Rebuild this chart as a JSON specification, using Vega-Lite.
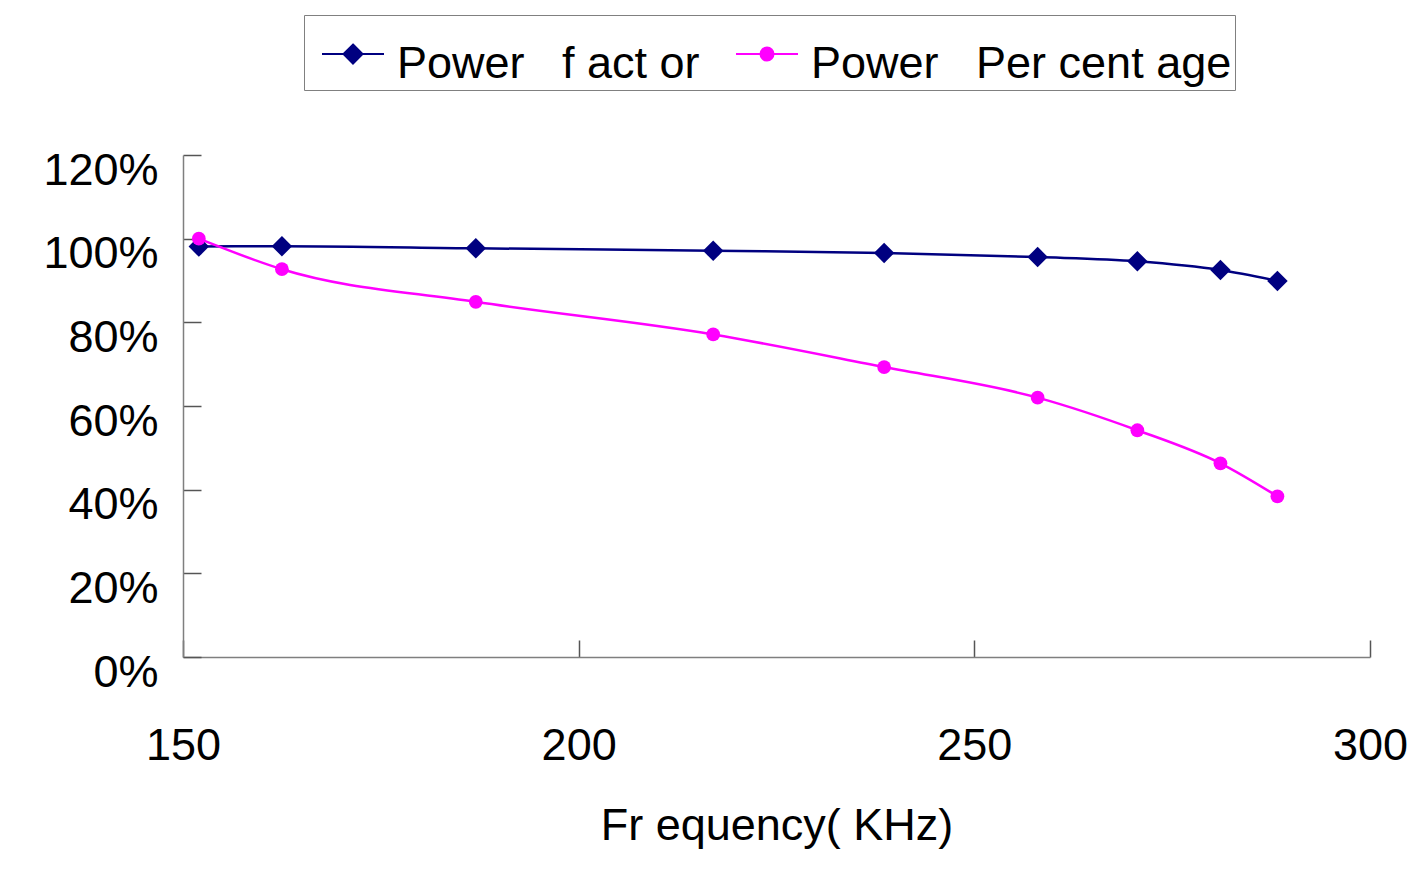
{
  "$schema": "https://vega.github.io/schema/vega-lite/v6.json",
  "width": 1187,
  "height": 502,
  "autosize": {"type": "none"},
  "padding": {"left": 183, "top": 155, "right": 48, "bottom": 215},
  "background": "white",
  "config": {"view": {"stroke": null}, "font": "Liberation Sans"},
  "data": {
    "values": [
      {"Series": "Power\u00a0\u00a0\u00a0f act or", "Frequency": 152, "Value": 0.981},
      {"Series": "Power\u00a0\u00a0\u00a0f act or", "Frequency": 162.5, "Value": 0.982},
      {"Series": "Power\u00a0\u00a0\u00a0f act or", "Frequency": 187, "Value": 0.977},
      {"Series": "Power\u00a0\u00a0\u00a0f act or", "Frequency": 217, "Value": 0.971},
      {"Series": "Power\u00a0\u00a0\u00a0f act or", "Frequency": 238.6, "Value": 0.966},
      {"Series": "Power\u00a0\u00a0\u00a0f act or", "Frequency": 258, "Value": 0.956},
      {"Series": "Power\u00a0\u00a0\u00a0f act or", "Frequency": 270.6, "Value": 0.946},
      {"Series": "Power\u00a0\u00a0\u00a0f act or", "Frequency": 281.1, "Value": 0.925},
      {"Series": "Power\u00a0\u00a0\u00a0f act or", "Frequency": 288.3, "Value": 0.899},
      {"Series": "Power\u00a0\u00a0\u00a0Per cent age", "Frequency": 152, "Value": 1.0},
      {"Series": "Power\u00a0\u00a0\u00a0Per cent age", "Frequency": 162.5, "Value": 0.927},
      {"Series": "Power\u00a0\u00a0\u00a0Per cent age", "Frequency": 187, "Value": 0.849},
      {"Series": "Power\u00a0\u00a0\u00a0Per cent age", "Frequency": 217, "Value": 0.771},
      {"Series": "Power\u00a0\u00a0\u00a0Per cent age", "Frequency": 238.6, "Value": 0.693},
      {"Series": "Power\u00a0\u00a0\u00a0Per cent age", "Frequency": 258, "Value": 0.62},
      {"Series": "Power\u00a0\u00a0\u00a0Per cent age", "Frequency": 270.6, "Value": 0.542},
      {"Series": "Power\u00a0\u00a0\u00a0Per cent age", "Frequency": 281.1, "Value": 0.463},
      {"Series": "Power\u00a0\u00a0\u00a0Per cent age", "Frequency": 288.3, "Value": 0.384}
    ]
  },
  "encoding": {
    "x": {
      "field": "Frequency",
      "type": "quantitative",
      "scale": {"domain": [150, 300], "nice": false, "zero": false},
      "axis": {
        "values": [150, 200, 250, 300],
        "grid": false,
        "domainColor": "#7f7f7f",
        "domainWidth": 1.5,
        "tickColor": "#555555",
        "tickWidth": 1.5,
        "tickSize": -17,
        "labelFontSize": 45,
        "labelColor": "#000000",
        "labelPadding": 83,
        "labelFlush": false,
        "title": "Fr equency( KHz)",
        "titleFontSize": 45,
        "titleFontWeight": "normal",
        "titleColor": "#000000",
        "titlePadding": 35
      }
    },
    "y": {
      "field": "Value",
      "type": "quantitative",
      "scale": {"domain": [0, 1.2], "nice": false},
      "axis": {
        "values": [0, 0.2, 0.4, 0.6, 0.8, 1.0, 1.2],
        "format": ".0%",
        "grid": false,
        "domainColor": "#7f7f7f",
        "domainWidth": 1.5,
        "tickColor": "#555555",
        "tickWidth": 1.5,
        "tickSize": -18,
        "labelFontSize": 45,
        "labelColor": "#000000",
        "labelPadding": 43,
        "labelOffset": 15,
        "labelFlush": false,
        "title": null
      }
    },
    "color": {
      "field": "Series",
      "type": "nominal",
      "scale": {
        "domain": ["Power\u00a0\u00a0\u00a0f act or", "Power\u00a0\u00a0\u00a0Per cent age"],
        "range": ["#000080", "#ff00ff"]
      },
      "legend": {
        "orient": "none",
        "legendX": 121,
        "legendY": -140,
        "direction": "horizontal",
        "title": null,
        "fillColor": "white",
        "strokeColor": "#808080",
        "padding": 3,
        "symbolSize": 3844,
        "symbolOffset": 14,
        "symbolStrokeWidth": 2,
        "labelOffset": 12,
        "columnPadding": 21,
        "labelFontSize": 45,
        "labelColor": "#000000",
        "labelLimit": 0,
        "encode": {
          "symbols": {
            "update": {
              "shape": {"signal": "indexof(datum.value, 'f act') >= 0 ? 'M-1,0.13H1M0,-0.176L0.306,0.13L0,0.436L-0.306,0.13Z' : 'M-1,0.13H1M0.21,0.13A0.21,0.21,0,1,1,-0.21,0.13A0.21,0.21,0,1,1,0.21,0.13Z'"},
              "fill": {"signal": "indexof(datum.value, 'f act') >= 0 ? '#000080' : '#ff00ff'"},
              "stroke": {"signal": "indexof(datum.value, 'f act') >= 0 ? '#000080' : '#ff00ff'"},
              "strokeWidth": {"value": 2},
              "size": {"value": 3844},
              "opacity": {"value": 1}
            }
          },
          "labels": {"update": {"dy": {"value": 14}}}
        }
      }
    }
  },
  "layer": [
    {"mark": {"type": "line", "interpolate": "monotone", "strokeWidth": 2.5}},
    {
      "transform": [{"filter": "indexof(datum.Series, 'f act') >= 0"}],
      "mark": {"type": "point", "shape": "diamond", "filled": true, "opacity": 1, "size": 420}
    },
    {
      "transform": [{"filter": "indexof(datum.Series, 'f act') < 0"}],
      "mark": {"type": "point", "shape": "circle", "filled": true, "opacity": 1, "size": 190}
    }
  ]
}
